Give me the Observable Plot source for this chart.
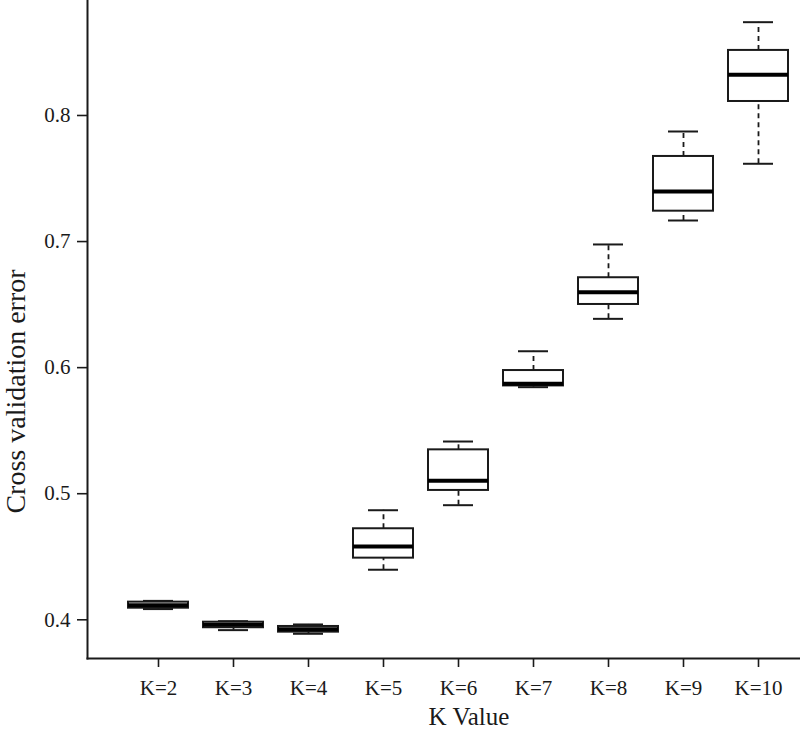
<!DOCTYPE html>
<html>
<head>
<meta charset="utf-8">
<script src="https://cdn.jsdelivr.net/npm/d3@7"></script>
<script src="https://cdn.jsdelivr.net/npm/@observablehq/plot@0.6"></script>
<style>
  html, body { margin: 0; padding: 0; background: #fff; }
  #chart svg { display: block; }
</style>
</head>
<body>
<div id="chart"></div>
<script>
// Cross-validation error summary per number of clusters K
const categories = ["K=2", "K=3", "K=4", "K=5", "K=6", "K=7", "K=8", "K=9", "K=10"];
const mins    = [0.4085, 0.3918, 0.3889, 0.4397, 0.4909, 0.5845, 0.6387, 0.7167, 0.7617];
const q1s     = [0.4092, 0.3937, 0.3902, 0.4489, 0.5026, 0.5855, 0.6501, 0.7241, 0.8111];
const medians = [0.4115, 0.3960, 0.3925, 0.4581, 0.5103, 0.5872, 0.6598, 0.7397, 0.8323];
const q3s     = [0.4140, 0.3981, 0.3947, 0.4722, 0.5348, 0.5977, 0.6713, 0.7675, 0.8516];
const maxs    = [0.4150, 0.3989, 0.3963, 0.4869, 0.5414, 0.6130, 0.6977, 0.7873, 0.8740];
const yTicks  = [0.4, 0.5, 0.6, 0.7, 0.8];

const rows = categories.map((k, i) => ({
  k, min: mins[i], q1: q1s[i], median: medians[i], q3: q3s[i], max: maxs[i]
}));

const ink = "#1a1a1a";

const chart = Plot.plot({
  width: 800,
  height: 733,
  marginLeft: 87,
  marginRight: 0,
  marginTop: 0,
  marginBottom: 75,
  style: { fontFamily: "'Liberation Serif', 'Times New Roman', serif", fontSize: "21px", color: ink, background: "#fff" },
  x: { domain: categories, paddingInner: 0.2, paddingOuter: 0.291, align: 0.783, label: null },
  y: { domain: [0.3693, 0.8912], label: null },
  marks: [
    // L-shaped axis frame
    Plot.frame({ anchor: "left", stroke: ink, strokeWidth: 2 }),
    Plot.frame({ anchor: "bottom", stroke: ink, strokeWidth: 2 }),
    Plot.axisY({ ticks: yTicks, tickFormat: d3.format(".1f"), tickSize: 10, tickPadding: 7,
                 fontSize: 21, stroke: ink, strokeWidth: 1.6, label: null }),
    Plot.axisX({ tickSize: 9, tickPadding: 13, fontSize: 21, stroke: ink, strokeWidth: 1.6, label: null }),
    // dashed whiskers
    Plot.ruleX(rows, { x: "k", y1: "q3", y2: "max", stroke: ink, strokeWidth: 1.8, strokeDasharray: "5,4" }),
    Plot.ruleX(rows, { x: "k", y1: "min", y2: "q1", stroke: ink, strokeWidth: 1.8, strokeDasharray: "5,4" }),
    // whisker caps
    Plot.tickY(rows, { x: "k", y: "max", stroke: ink, strokeWidth: 2, insetLeft: 15, insetRight: 15 }),
    Plot.tickY(rows, { x: "k", y: "min", stroke: ink, strokeWidth: 2, insetLeft: 15, insetRight: 15 }),
    // interquartile boxes
    Plot.barY(rows, { x: "k", y1: "q1", y2: "q3", fill: "#fff", stroke: ink, strokeWidth: 2 }),
    // medians
    Plot.tickY(rows, { x: "k", y: "median", stroke: "#000", strokeWidth: 4 }),
    // axis titles
    Plot.text(["K Value"], { frameAnchor: "bottom", textAnchor: "middle", dx: 25, dy: 66, fontSize: 25, fill: ink }),
    Plot.text(["Cross validation error"], { frameAnchor: "left", textAnchor: "middle", rotate: -90,
                                            dx: -71, dy: 62, fontSize: 28, fill: ink })
  ]
});

document.getElementById("chart").appendChild(chart);
</script>
</body>
</html>
